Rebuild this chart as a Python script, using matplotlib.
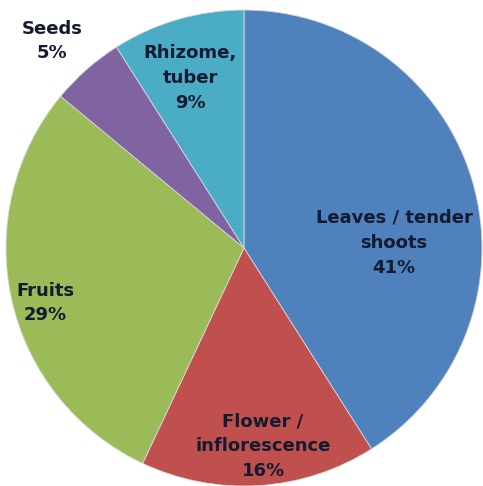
import matplotlib.pyplot as plt

# Share of plant parts used
parts = ['Leaves / tender\nshoots', 'Flower /\ninflorescence', 'Fruits', 'Seeds', 'Rhizome,\ntuber']
shares = [41, 16, 29, 5, 9]
colors = ['#4F81BD', '#C0504D', '#9BBB59', '#8064A2', '#4BACC6']

# where each label sits (pixel units, origin bottom-left)
label_pos = [(394, 243), (263, 40), (45, 183), (52, 445), (190, 408)]

W, H = 483, 486
fig = plt.figure(figsize=(W / 100, H / 100), dpi=100)
ax = fig.add_axes([0, 0, 1, 1])

ax.pie(shares, colors=colors, startangle=90, counterclock=False,
       center=(244, H - 248), radius=238, frame=True,
       wedgeprops=dict(linewidth=0.6, edgecolor='#d8d8d8'))

for name, val, (x, y) in zip(parts, shares, label_pos):
    ax.text(x, y, f'{name}\n{val}%', ha='center', va='center',
            fontsize=13, fontweight='bold', color='#141a30',
            linespacing=1.5, family='DejaVu Sans')

ax.set_xlim(0, W)
ax.set_ylim(0, H)
ax.set_aspect('equal')
ax.axis('off')

plt.savefig('out.png', dpi=100)
